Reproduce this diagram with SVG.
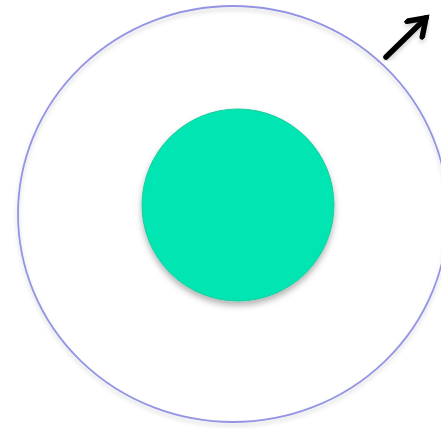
<svg xmlns="http://www.w3.org/2000/svg" width="441" height="429" viewBox="0 0 441 429">
<defs>
<filter id="sh" x="-20%" y="-20%" width="140%" height="140%">
<feDropShadow dx="0" dy="4" stdDeviation="3" flood-color="#000" flood-opacity="0.3"/>
</filter>
<filter id="sh2" x="-10%" y="-10%" width="120%" height="120%">
<feDropShadow dx="0" dy="3" stdDeviation="2" flood-color="#000" flood-opacity="0.18"/>
</filter>
<marker id="head" viewBox="0 0 26 26" refX="19" refY="13" markerWidth="26" markerHeight="26" markerUnits="userSpaceOnUse" orient="auto">
<polyline points="3,2 19,13 3,24" fill="none" stroke="#000" stroke-width="5.5" stroke-linecap="round" stroke-linejoin="miter"/>
</marker>
<style>
.outer{fill:none;stroke:#9494E4;stroke-width:1.8}
.inner{fill:#00E5B1;stroke:#1FCB9F;stroke-width:1}
.conn{stroke:#000;stroke-width:5.5;stroke-linecap:round;fill:none}
</style>
</defs>
<rect width="441" height="429" fill="#fff"/>
<g id="outer-circle" filter="url(#sh2)">
<ellipse class="outer" cx="233" cy="214" rx="215" ry="208"/>
</g>
<g id="inner-circle" filter="url(#sh)">
<circle class="inner" cx="238" cy="205" r="96"/>
</g>
<g id="connectors" filter="url(#sh2)">
<line class="conn" x1="386" y1="57" x2="426" y2="18" marker-end="url(#head)"/>
</g>
</svg>
